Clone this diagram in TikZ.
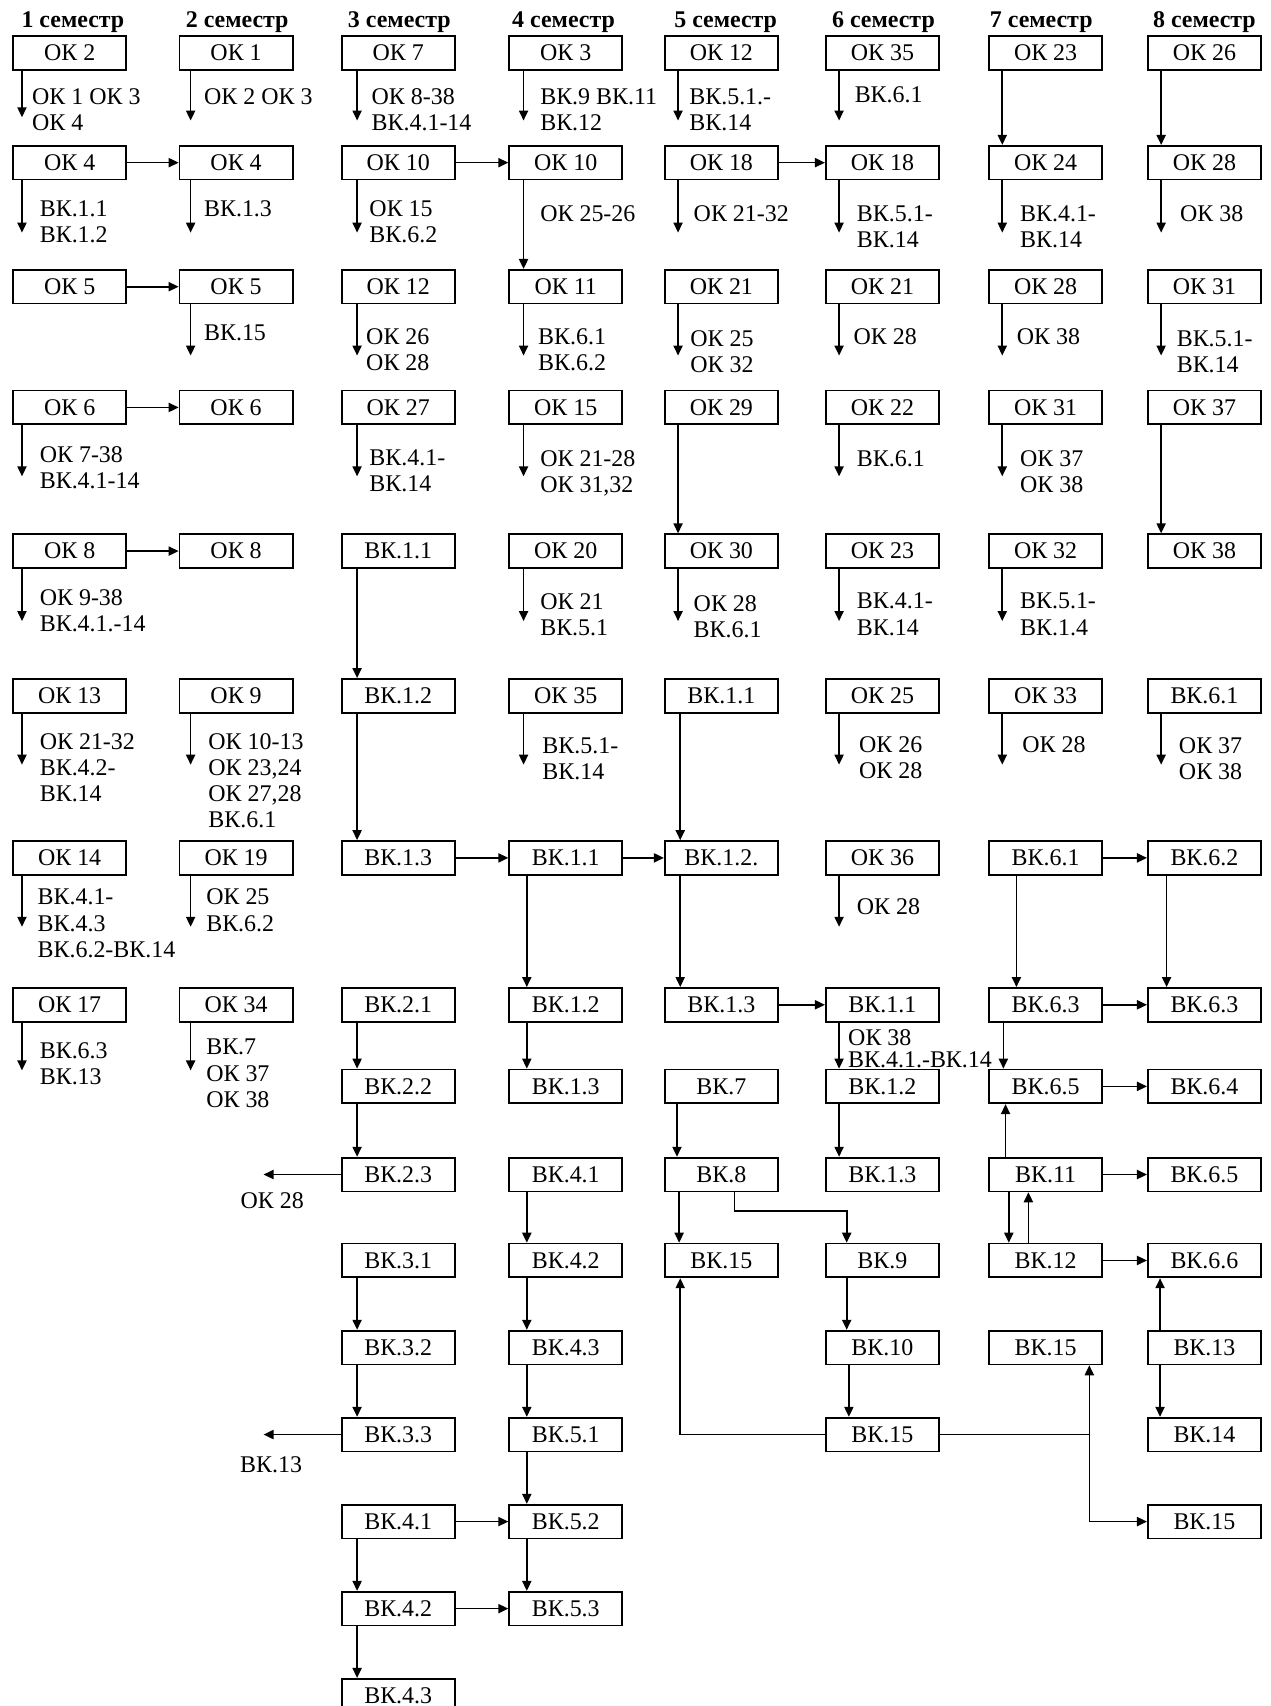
\documentclass[tikz,border=0pt]{standalone}
\usepackage{fontspec}
\setmainfont{Liberation Serif}
\usetikzlibrary{arrows.meta,calc}
\tikzset{
 bx/.style={draw, line width=0.8pt, minimum width=52pt, minimum height=15.5pt, inner sep=0pt, font=\fontsize{11}{12}\selectfont},
 note/.style={anchor=north west, inner sep=0pt, align=left, font=\fontsize{11}{12}\selectfont},
 hdr/.style={inner sep=0pt, font=\bfseries\fontsize{11}{12}\selectfont},
 arr/.style={line width=0.75pt, -{Triangle[length=4.6pt,width=4.2pt]}},
 ln/.style={line width=0.75pt}
}
\newcommand\myann[6]{%
 \coordinate (#1s) at ($(#1.south west)+(#2,0)$);
 \coordinate (#1e) at ($(#1s)+(0,#3)$);
 \draw[arr] (#1s) -- (#1e);
 \node[note] (#1t) at ($(#1.south west)+(#4,#5)$) {#6};}
\newcommand\mydn[3]{\draw[arr] ($(#1.south west)+(#3,0)$) -- ($(#2.north west)+(#3,0)$);}
\newcommand\myup[3]{\draw[arr] ($(#1.north west)+(#3,0)$) -- ($(#2.south west)+(#3,0)$);}
\newcommand\myrt[2]{\draw[arr] (#1.east) -- (#2.west);}
\begin{document}
\begin{tikzpicture}[x=0.5pt,y=-0.5pt]
\useasboundingbox (0,0) rectangle (1168,1568);
% headers
\node[hdr] (h1) at (67,20) {1 семестр};
\node[hdr] (h2) at (218,20) {2 семестр};
\node[hdr] (h3) at (367,20) {3 семестр};
\node[hdr] (h4) at (518,20) {4 семестр};
\node[hdr] (h5) at (667,20) {5 семестр};
\node[hdr] (h6) at (812,20) {6 семестр};
\node[hdr] (h7) at (957,20) {7 семестр};
\node[hdr] (h8) at (1107,20) {8 семестр};
% column 1
\node[bx] (c1r1) at (64,48.5) {ОК 2};
\node[bx] (c1r2) at (64,149.5) {ОК 4};
\node[bx] (c1r3) at (64,263.5) {ОК 5};
\node[bx] (c1r4) at (64,374.5) {ОК 6};
\node[bx] (c1r5) at (64,506.5) {ОК 8};
\node[bx] (c1r6) at (64,639.5) {ОК 13};
\node[bx] (c1r7) at (64,788.5) {ОК 14};
\node[bx] (c1r8) at (64,923.5) {ОК 17};
% column 2
\node[bx] (c2r1) at (217,48.5) {ОК 1};
\node[bx] (c2r2) at (217,149.5) {ОК 4};
\node[bx] (c2r3) at (217,263.5) {ОК 5};
\node[bx] (c2r4) at (217,374.5) {ОК 6};
\node[bx] (c2r5) at (217,506.5) {ОК 8};
\node[bx] (c2r6) at (217,639.5) {ОК 9};
\node[bx] (c2r7) at (217,788.5) {ОК 19};
\node[bx] (c2r8) at (217,923.5) {ОК 34};
% column 3
\node[bx] (c3r1) at (366,48.5) {ОК 7};
\node[bx] (c3r2) at (366,149.5) {ОК 10};
\node[bx] (c3r3) at (366,263.5) {ОК 12};
\node[bx] (c3r4) at (366,374.5) {ОК 27};
\node[bx] (c3r5) at (366,506.5) {ВК.1.1};
\node[bx] (c3r6) at (366,639.5) {ВК.1.2};
\node[bx] (c3r7) at (366,788.5) {ВК.1.3};
\node[bx] (c3r8) at (366,923.5) {ВК.2.1};
\node[bx] (c3r9) at (366,998.5) {ВК.2.2};
\node[bx] (c3r10) at (366,1079.5) {ВК.2.3};
\node[bx] (c3r11) at (366,1158.5) {ВК.3.1};
\node[bx] (c3r12) at (366,1238.5) {ВК.3.2};
\node[bx] (c3r13) at (366,1318.5) {ВК.3.3};
\node[bx] (c3r14) at (366,1398.5) {ВК.4.1};
\node[bx] (c3r15) at (366,1478.5) {ВК.4.2};
\node[bx] (c3r16) at (366,1558.5) {ВК.4.3};
% column 4
\node[bx] (c4r1) at (520,48.5) {ОК 3};
\node[bx] (c4r2) at (520,149.5) {ОК 10};
\node[bx] (c4r3) at (520,263.5) {ОК 11};
\node[bx] (c4r4) at (520,374.5) {ОК 15};
\node[bx] (c4r5) at (520,506.5) {ОК 20};
\node[bx] (c4r6) at (520,639.5) {ОК 35};
\node[bx] (c4r7) at (520,788.5) {ВК.1.1};
\node[bx] (c4r8) at (520,923.5) {ВК.1.2};
\node[bx] (c4r9) at (520,998.5) {ВК.1.3};
\node[bx] (c4r10) at (520,1079.5) {ВК.4.1};
\node[bx] (c4r11) at (520,1158.5) {ВК.4.2};
\node[bx] (c4r12) at (520,1238.5) {ВК.4.3};
\node[bx] (c4r13) at (520,1318.5) {ВК.5.1};
\node[bx] (c4r14) at (520,1398.5) {ВК.5.2};
\node[bx] (c4r15) at (520,1478.5) {ВК.5.3};
% column 5
\node[bx] (c5r1) at (663,48.5) {ОК 12};
\node[bx] (c5r2) at (663,149.5) {ОК 18};
\node[bx] (c5r3) at (663,263.5) {ОК 21};
\node[bx] (c5r4) at (663,374.5) {ОК 29};
\node[bx] (c5r5) at (663,506.5) {ОК 30};
\node[bx] (c5r6) at (663,639.5) {ВК.1.1};
\node[bx] (c5r7) at (663,788.5) {ВК.1.2.};
\node[bx] (c5r8) at (663,923.5) {ВК.1.3};
\node[bx] (c5r9) at (663,998.5) {ВК.7};
\node[bx] (c5r10) at (663,1079.5) {ВК.8};
\node[bx] (c5r11) at (663,1158.5) {ВК.15};
% column 6
\node[bx] (c6r1) at (811,48.5) {ОК 35};
\node[bx] (c6r2) at (811,149.5) {ОК 18};
\node[bx] (c6r3) at (811,263.5) {ОК 21};
\node[bx] (c6r4) at (811,374.5) {ОК 22};
\node[bx] (c6r5) at (811,506.5) {ОК 23};
\node[bx] (c6r6) at (811,639.5) {ОК 25};
\node[bx] (c6r7) at (811,788.5) {ОК 36};
\node[bx] (c6r8) at (811,923.5) {ВК.1.1};
\node[bx] (c6r9) at (811,998.5) {ВК.1.2};
\node[bx] (c6r10) at (811,1079.5) {ВК.1.3};
\node[bx] (c6r11) at (811,1158.5) {ВК.9};
\node[bx] (c6r12) at (811,1238.5) {ВК.10};
\node[bx] (c6r13) at (811,1318.5) {ВК.15};
% column 7
\node[bx] (c7r1) at (961,48.5) {ОК 23};
\node[bx] (c7r2) at (961,149.5) {ОК 24};
\node[bx] (c7r3) at (961,263.5) {ОК 28};
\node[bx] (c7r4) at (961,374.5) {ОК 31};
\node[bx] (c7r5) at (961,506.5) {ОК 32};
\node[bx] (c7r6) at (961,639.5) {ОК 33};
\node[bx] (c7r7) at (961,788.5) {ВК.6.1};
\node[bx] (c7r8) at (961,923.5) {ВК.6.3};
\node[bx] (c7r9) at (961,998.5) {ВК.6.5};
\node[bx] (c7r10) at (961,1079.5) {ВК.11};
\node[bx] (c7r11) at (961,1158.5) {ВК.12};
\node[bx] (c7r12) at (961,1238.5) {ВК.15};
% column 8
\node[bx] (c8r1) at (1107,48.5) {ОК 26};
\node[bx] (c8r2) at (1107,149.5) {ОК 28};
\node[bx] (c8r3) at (1107,263.5) {ОК 31};
\node[bx] (c8r4) at (1107,374.5) {ОК 37};
\node[bx] (c8r5) at (1107,506.5) {ОК 38};
\node[bx] (c8r6) at (1107,639.5) {ВК.6.1};
\node[bx] (c8r7) at (1107,788.5) {ВК.6.2};
\node[bx] (c8r8) at (1107,923.5) {ВК.6.3};
\node[bx] (c8r9) at (1107,998.5) {ВК.6.4};
\node[bx] (c8r10) at (1107,1079.5) {ВК.6.5};
\node[bx] (c8r11) at (1107,1158.5) {ВК.6.6};
\node[bx] (c8r12) at (1107,1238.5) {ВК.13};
\node[bx] (c8r13) at (1107,1318.5) {ВК.14};
\node[bx] (c8r14) at (1107,1398.5) {ВК.15};
% annotations: node, arrow x off, arrow length, text x off, text top below box, text
\myann{c1r1}{9}{43}{18}{16}{ОК 1 ОК 3\\ОК 4}
\myann{c1r2}{9}{48}{25}{18}{ВК.1.1\\ВК.1.2}
\myann{c1r4}{9}{47}{25}{19}{ОК 7-38\\ВК.4.1-14}
\myann{c1r5}{9}{48}{25}{19}{ОК 9-38\\ВК.4.1.-14}
\myann{c1r6}{9}{47}{25}{18}{ОК 21-32\\ВК.4.2-\\ВК.14}
\myann{c1r7}{9}{47}{23}{12}{ВК.4.1-\\ВК.4.3\\ВК.6.2-ВК.14}
\myann{c1r8}{9}{44}{25}{18}{ВК.6.3\\ВК.13}
\myann{c2r1}{11}{46}{23}{16}{ОК 2 ОК 3}
\myann{c2r2}{11}{48}{23}{18}{ВК.1.3}
\myann{c2r3}{11}{47}{23}{18}{ВК.15}
\myann{c2r6}{11}{47}{27}{18}{ОК 10-13\\ОК 23,24\\ОК 27,28\\ВК.6.1}
\myann{c2r7}{11}{47}{25}{12}{ОК 25\\ВК.6.2}
\myann{c2r8}{11}{44}{25}{15}{ВК.7\\ОК 37\\ОК 38}
\myann{c3r1}{15}{46}{28}{16}{ОК 8-38\\ВК.4.1-14}
\myann{c3r2}{15}{48}{26}{18}{ОК 15\\ВК.6.2}
\myann{c3r3}{15}{47}{23}{22}{ОК 26\\ОК 28}
\myann{c3r4}{15}{47}{26}{22}{ВК.4.1-\\ВК.14}
\myann{c4r1}{14}{46}{29}{16}{ВК.9 ВК.11\\ВК.12}
\myann{c4r3}{14}{47}{27}{22}{ВК.6.1\\ВК.6.2}
\myann{c4r4}{14}{47}{29}{23}{ОК 21-28\\ОК 31,32}
\myann{c4r5}{14}{48}{29}{22}{ОК 21\\ВК.5.1}
\myann{c4r6}{14}{47}{31}{22}{ВК.5.1-\\ВК.14}
\myann{c5r1}{13}{46}{23}{16}{ВК.5.1.-\\ВК.14}
\myann{c5r2}{13}{48}{27}{23}{ОК 21-32}
\myann{c5r3}{13}{47}{24}{24}{ОК 25\\ОК 32}
\myann{c5r5}{13}{48}{27}{24}{ОК 28\\ВК.6.1}
\myann{c6r1}{13}{46}{27}{14}{ВК.6.1}
\myann{c6r2}{13}{48}{29}{23}{ВК.5.1-\\ВК.14}
\myann{c6r3}{13}{47}{26}{22}{ОК 28}
\myann{c6r4}{13}{47}{29}{23}{ВК.6.1}
\myann{c6r5}{13}{48}{29}{22}{ВК.4.1-\\ВК.14}
\myann{c6r6}{13}{47}{31}{21}{ОК 26\\ОК 28}
\myann{c6r7}{13}{47}{29}{21}{ОК 28}
\myann{c7r2}{13}{48}{29}{23}{ВК.4.1-\\ВК.14}
\myann{c7r3}{13}{47}{26}{22}{ОК 38}
\myann{c7r4}{13}{47}{29}{23}{ОК 37\\ОК 38}
\myann{c7r5}{13}{48}{29}{22}{ВК.5.1-\\ВК.1.4}
\myann{c7r6}{13}{47}{31}{21}{ОК 28}
\myann{c8r2}{13}{48}{30}{23}{ОК 38}
\myann{c8r3}{13}{47}{27}{24}{ВК.5.1-\\ВК.14}
\myann{c8r6}{13}{47}{29}{22}{ОК 37\\ОК 38}
% labels on connectors
\node[note] (l1) at ($(c4r2.south west)+(29,23)$) {ОК 25-26};
\node[note, font=\fontsize{11}{10}\selectfont] (l2) at ($(c6r8.south west)+(21,6)$) {ОК 38\\ВК.4.1.-ВК.14};
% horizontal connectors
\myrt{c1r2}{c2r2}
\myrt{c1r3}{c2r3}
\myrt{c1r4}{c2r4}
\myrt{c1r5}{c2r5}
\myrt{c3r2}{c4r2}
\myrt{c5r2}{c6r2}
\myrt{c3r7}{c4r7}
\myrt{c4r7}{c5r7}
\myrt{c5r8}{c6r8}
\myrt{c3r14}{c4r14}
\myrt{c3r15}{c4r15}
\myrt{c7r7}{c8r7}
\myrt{c7r8}{c8r8}
\myrt{c7r9}{c8r9}
\myrt{c7r10}{c8r10}
\myrt{c7r11}{c8r11}
% vertical connectors
\mydn{c4r2}{c4r3}{14}
\mydn{c5r4}{c5r5}{13}
\mydn{c7r1}{c7r2}{13}
\mydn{c8r1}{c8r2}{13}
\mydn{c8r4}{c8r5}{13}
\mydn{c3r5}{c3r6}{15}
\mydn{c3r6}{c3r7}{15}
\mydn{c3r8}{c3r9}{15}
\mydn{c3r9}{c3r10}{15}
\mydn{c3r11}{c3r12}{15}
\mydn{c3r12}{c3r13}{15}
\mydn{c3r14}{c3r15}{15}
\mydn{c3r15}{c3r16}{15}
\mydn{c4r7}{c4r8}{17}
\mydn{c4r8}{c4r9}{17}
\mydn{c4r10}{c4r11}{17}
\mydn{c4r11}{c4r12}{17}
\mydn{c4r12}{c4r13}{17}
\mydn{c4r13}{c4r14}{17}
\mydn{c4r14}{c4r15}{17}
\mydn{c5r6}{c5r7}{15}
\mydn{c5r7}{c5r8}{15}
\mydn{c5r9}{c5r10}{12}
\mydn{c5r10}{c5r11}{14}
\mydn{c6r8}{c6r9}{13}
\mydn{c6r9}{c6r10}{13}
\mydn{c6r11}{c6r12}{20}
\mydn{c6r12}{c6r13}{22}
\mydn{c7r7}{c7r8}{26}
\mydn{c7r8}{c7r9}{14}
\myup{c7r10}{c7r9}{16}
\mydn{c7r10}{c7r11}{19}
\myup{c7r11}{c7r10}{37}
\mydn{c8r7}{c8r8}{18}
\myup{c8r12}{c8r11}{12}
\mydn{c8r12}{c8r13}{12}
% VK.8 -> VK.9
\coordinate (j3) at ($(c5r10.south west)+(65,0)$);
\coordinate (j4) at ($(c6r11.north west)+(20,0)$);
\coordinate (j5) at ($(j3)+(0,17)$);
\draw[arr] (j3) -- (j5) -| (j4);
% VK.15 (col 6) connectors
\coordinate (j2) at ($(c5r11.south west)+(15,0)$);
\draw[arr] (c6r13.west) -| (j2);
\coordinate (j1) at ($(c7r12.south west)+(93,0)$);
\coordinate (j6) at (j1 |- c6r13.east);
\draw[ln] (c6r13.east) -- (j6);
\draw[arr] (j6) -- (j1);
\draw[arr] (j6) |- (c8r14.west);
% left arrows
\coordinate (e1) at ($(c3r10.west)+(-71,0)$);
\draw[arr] (c3r10.west) -- (e1);
\node[note, anchor=north] (t1) at ($(e1)+(8,16)$) {ОК 28};
\coordinate (e2) at ($(c3r13.west)+(-71,0)$);
\draw[arr] (c3r13.west) -- (e2);
\node[note, anchor=north] (t2) at ($(e2)+(7,20)$) {ВК.13};
\end{tikzpicture}
\end{document}
